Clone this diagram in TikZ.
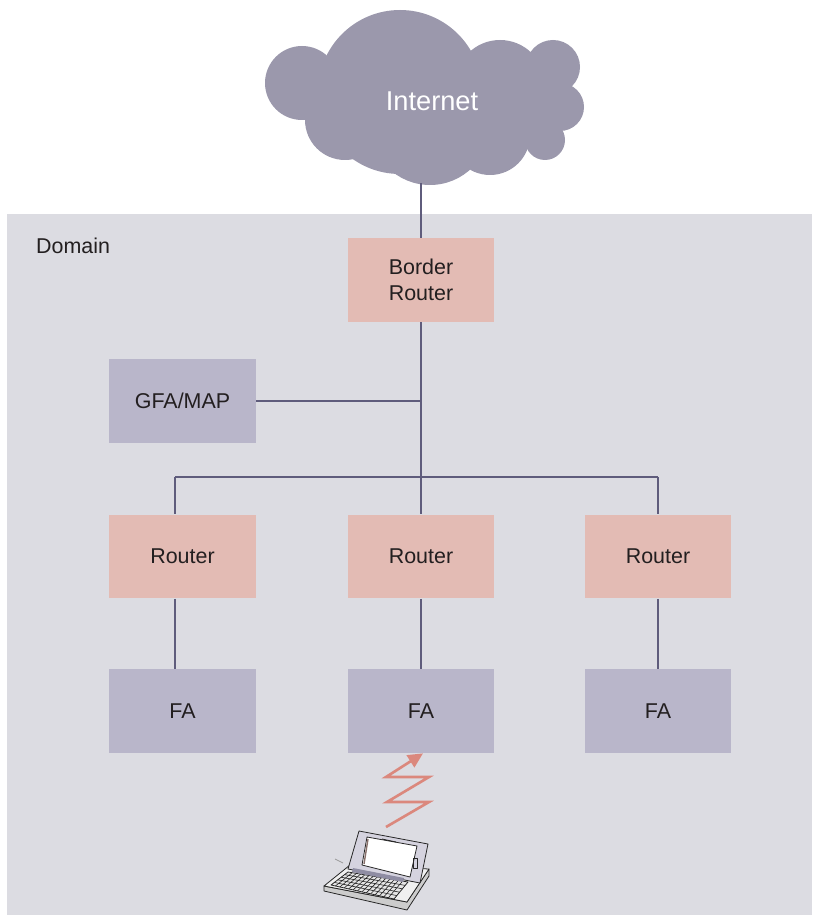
\documentclass[tikz,border=0pt]{standalone}
\usepackage{fontspec}
\setmainfont{Liberation Sans}
\usetikzlibrary{calc,arrows.meta}
\definecolor{domainbg}{RGB}{220,220,226}
\definecolor{routerpink}{RGB}{227,187,180}
\definecolor{agentgray}{RGB}{185,182,202}
\definecolor{cloudgray}{RGB}{155,152,172}
\definecolor{linkcol}{RGB}{95,92,124}
\definecolor{radiocol}{RGB}{219,136,125}
\definecolor{inkcol}{RGB}{35,31,32}
\begin{document}
\begin{tikzpicture}[x=0.02cm,y=-0.02cm,
  box/.style={minimum width=2.94cm,minimum height=1.68cm,inner sep=0pt,align=center,
    text=inkcol,font=\fontsize{12.2}{14.5}\selectfont},
  router/.style={box,fill=routerpink},
  agent/.style={box,fill=agentgray},
  link/.style={draw=linkcol,line width=0.6pt}]
\useasboundingbox (0,0) rectangle (812,915);
% domain background
\fill[domainbg] (7,214) rectangle (812,915);
\node[anchor=west,text=inkcol,font=\fontsize{12.2}{14.5}\selectfont] (domain) at (30,246) {Domain};
% cloud made of overlapping circles
\foreach \cx/\cy/\r in {302/83/37,400/92/82,500/85/45,553/67/27,560/107/24,545/140/20,
  430/125/60,345/120/40,490/135/40,520/110/35}
  \fill[cloudgray] (\cx,\cy) circle[radius=\r*0.02cm];
\node[text=white,font=\fontsize{15.5}{18}\selectfont] (internet) at (432,101) {Internet};
\coordinate (cloudfoot) at (421,183);
% routers and agents
\node[router] (border) at (421,280) {Border\\Router};
\node[agent] (gfa) at (182.5,401) {GFA/MAP};
\node[router] (routerL) at (182.5,556.5) {Router};
\node[router] (routerM) at (421,556.5) {Router};
\node[router] (routerR) at (658,556.5) {Router};
\node[agent] (faL) at (182.5,711) {FA};
\node[agent] (faM) at (421,711) {FA};
\node[agent] (faR) at (658,711) {FA};
% links
\coordinate (busL) at (175,477);
\coordinate (busM) at (421,477);
\coordinate (busR) at (658,477);
\draw[link] (cloudfoot) -- (border.north);
\draw[link] (border.south) -- (busM);
\draw[link] (gfa.east) -- (gfa.east -| border.south);
\draw[link] (busL) -- (busR);
\draw[link] (busL) -- (busL |- routerL.north);
\draw[link] (busM) -- (routerM.north);
\draw[link] (busR) -- (routerR.north);
\draw[link] (busL |- routerL.south) -- (busL |- faL.north);
\draw[link] (routerM.south) -- (faM.north);
\draw[link] (routerR.south) -- (faR.north);
% radio link
\coordinate (radio) at (386,827);
\draw[radiocol,line width=1.5pt,-{Triangle[length=8.5pt,width=8pt]}]
  (radio) -- (429,802) -- (387,802) -- (429,777) -- (386,777) -- ($(faM.south)+(2,0)$);
% laptop
\begin{scope}[draw=black!85,line width=0.45pt,line join=round]
  \coordinate (dA) at (324,886); \coordinate (dB) at (350,865);
  \coordinate (dC) at (429,869); \coordinate (dD) at (407,902);
  \filldraw[fill=black!20] (dA) -- (dD) -- (dC) -- ++(0,7) -- ($(dD)+(0,8)$) -- ($(dA)+(0,5)$) -- cycle;
  \filldraw[fill=black!6] (dA) -- (dB) -- (dC) -- (dD) -- cycle;
  % keyboard
  \coordinate (k1) at (331,885); \coordinate (k2) at (348,872);
  \coordinate (k3) at (408,882); \coordinate (k4) at (394,899);
  \filldraw[fill=black!10] (k1) -- (k2) -- (k3) -- (k4) -- cycle;
  \foreach \t in {0.2,0.4,0.6,0.8}
    \draw[line width=0.35pt] ($(k1)!\t!(k2)$) -- ($(k4)!\t!(k3)$);
  \foreach \t in {0.07,0.14,...,0.95}
    \draw[line width=0.35pt] ($(k1)!\t!(k4)$) -- ($(k2)!\t!(k3)$);
  % lid
  \filldraw[fill=agentgray!60] (348,869) -- (359,831) -- (428,844) -- (420,883) -- cycle;
  \filldraw[fill=white] (367,837) -- (417,846) -- (410,877) -- (362,865) -- cycle;
  \draw[routerpink!60!black,line width=0.8pt] (368,839) -- (364,864);
  \fill[linkcol!70] (353,868) -- (404,878) -- (403,882) -- (352,872) -- cycle;
  \draw (382,839) -- (396,842);
  \draw (413,858) rectangle (417,868);
\end{scope}
\draw[black!40,line width=0.5pt] (335,859) -- (343,863);
\end{tikzpicture}
\end{document}
